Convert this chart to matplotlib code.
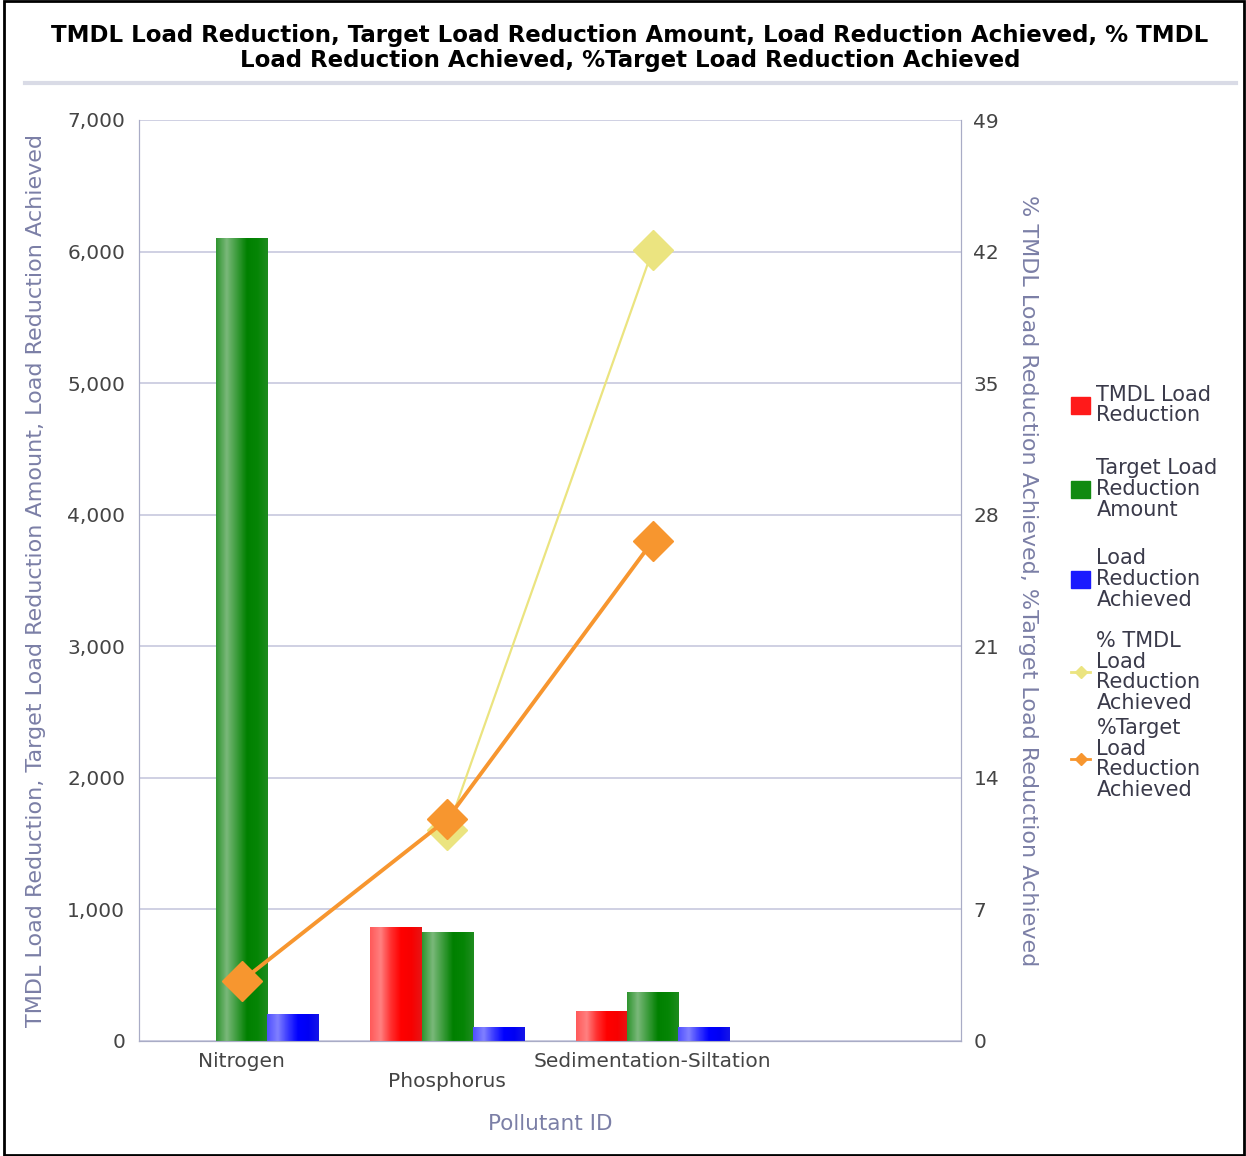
import numpy as np
import matplotlib.pyplot as plt
from matplotlib.colors import LinearSegmentedColormap
from matplotlib.lines import Line2D
from matplotlib.patches import Rectangle

plt.rc("font", family="DejaVu Sans")

pollutants = ["Nitrogen", "Phosphorus", "Sedimentation-Siltation"]
tmdl_reduction = [0, 866, 228]
target_reduction = [6100, 821, 365]
reduction_achieved = [198, 99, 99]
pct_tmdl_achieved = [np.nan, 11.2, 42.1]
pct_target_achieved = [3.2, 11.8, 26.6]

left_ticks = [0, 1000, 2000, 3000, 4000, 5000, 6000, 7000]
right_ticks = [0, 7, 14, 21, 28, 35, 42, 49]

label_col = "#7b7fa6"
tick_col = "#444444"
grid_col = "#cbcde0"

# shaded bar fills: light streak on the left third, deeper toward the right edge
shades = {
    "red": ["#ff5a5a", "#ff8080", "#ff3030", "#ff0000", "#f80000", "#e81414"],
    "green": ["#2f952f", "#7ab87a", "#3c9c3c", "#008000", "#058505", "#1e8c1e"],
    "blue": ["#5050ff", "#8080ff", "#3a3aff", "#0000ff", "#0000f4", "#1414e8"],
}

fig = plt.figure(figsize=(12.46, 11.56), dpi=100)
ax = fig.add_axes([139/1246, 1 - 1041/1156, (961-139)/1246, (1041-120)/1156])
ax2 = ax.twinx()

x = np.arange(len(pollutants))
w = 0.25
for off, vals, key in [(-w, tmdl_reduction, "red"),
                       (0, target_reduction, "green"),
                       (w, reduction_achieved, "blue")]:
    cmap = LinearSegmentedColormap.from_list(key, shades[key])
    bars = ax.bar(x + off, vals, w, color=shades[key][3], linewidth=0, zorder=2)
    for r in bars:
        if r.get_height() <= 0:
            continue
        ax.imshow(np.linspace(0, 1, 64).reshape(1, -1), cmap=cmap,
                  extent=[r.get_x(), r.get_x() + r.get_width(), 0, r.get_height()],
                  aspect="auto", clip_path=r, zorder=3, interpolation="bilinear")

ax.set_xlim(-0.5, 3.5)
ax.set_ylim(0, 7000)
ax.set_yticks(left_ticks)
ax.set_yticklabels([f"{v:,}" for v in left_ticks])
ax.set_xticks(x)
ax.set_xticklabels([p if i % 2 == 0 else "\n" + p for i, p in enumerate(pollutants)],
                   linespacing=1.05)
ax.grid(axis="y", color=grid_col, linewidth=1.3, zorder=0)
ax.set_axisbelow(True)
ax.tick_params(axis="both", length=0, labelsize=14.5, labelcolor=tick_col)
ax.tick_params(axis="y", pad=10)
ax.tick_params(axis="x", pad=8)
for s in ax.spines.values():
    s.set_color("#a9acc6")
ax.spines["top"].set_visible(False)
ax.set_xlabel("Pollutant ID", fontsize=15.5, color=label_col, labelpad=17)
ax.set_ylabel("TMDL Load Reduction, Target Load Reduction Amount, Load Reduction Achieved",
              fontsize=16, color=label_col, labelpad=15)

ax2.plot(x, pct_tmdl_achieved, color="#ebe480", linewidth=1.6, marker="D",
         markersize=20, zorder=4)
ax2.plot(x, pct_target_achieved, color="#f7962f", linewidth=2.8, marker="D",
         markersize=20, zorder=5)
ax2.set_ylim(0, 49)
ax2.set_yticks(right_ticks)
ax2.tick_params(axis="y", length=0, labelsize=14.5, labelcolor=tick_col, pad=9)
for s in ax2.spines.values():
    s.set_color("#a9acc6")
ax2.spines["top"].set_visible(False)
ax2.set_ylabel("% TMDL Load Reduction Achieved, %Target Load Reduction Achieved",
               fontsize=16, color=label_col, rotation=270, labelpad=28)

# legend, one block per series
entries = [
    (Rectangle((0, 0), 1, 1, color="#ff1a1a"), "TMDL Load\nReduction", 405),
    (Rectangle((0, 0), 1, 1, color="#108a10"), "Target Load\nReduction\nAmount", 489),
    (Rectangle((0, 0), 1, 1, color="#1a1aff"), "Load\nReduction\nAchieved", 579),
    (Line2D([], [], color="#ebe480", linewidth=2, marker="D", markersize=6),
     "% TMDL\nLoad\nReduction\nAchieved", 672),
    (Line2D([], [], color="#f7962f", linewidth=2, marker="D", markersize=6),
     "%Target\nLoad\nReduction\nAchieved", 759),
]
for h, lab, yc in entries:
    leg = fig.legend(handles=[h], labels=[lab], loc="center left",
                     bbox_to_anchor=(1061/1246, 1 - yc/1156), frameon=False,
                     fontsize=15, labelcolor="#3a3a4a", handlelength=0.9,
                     handleheight=0.9, handletextpad=0.3, borderpad=0)
    for t in leg.get_texts():
        t.set_linespacing(1.04)

fig.text(630/1246, 1 - 48/1156,
         "TMDL Load Reduction, Target Load Reduction Amount, Load Reduction Achieved, % TMDL\n"
         "Load Reduction Achieved, %Target Load Reduction Achieved",
         ha="center", va="center", fontsize=16.5, fontweight="bold",
         linespacing=1.1)
fig.add_artist(Line2D([25/1246, 1236/1246], [1 - 83/1156, 1 - 83/1156],
                      color="#d9dbe6", linewidth=3))
fig.add_artist(Rectangle((4/1246, 1/1156), 1240/1246, 1154/1156, fill=False,
                         edgecolor="black", linewidth=2))

plt.savefig("out.png", dpi=100)
